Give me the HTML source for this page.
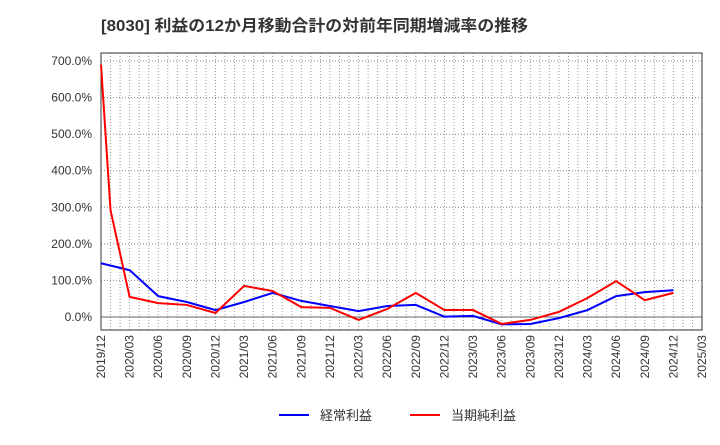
<!DOCTYPE html>
<html><head><meta charset="utf-8"><style>
body{margin:0;background:#fff;}
svg{font-family:"Liberation Sans","Noto Sans CJK JP",sans-serif;}
</style></head><body>
<svg id="c" width="720" height="440" xmlns="http://www.w3.org/2000/svg">
<text x="101" y="31" font-size="16" font-weight="bold" fill="#333" textLength="427" lengthAdjust="spacingAndGlyphs">[8030]  利益の12か月移動合計の対前年同期増減率の推移</text>
<g id="grid"></g><g id="axes"></g><g id="series"></g>
<g>
<line x1="279" y1="415" x2="309" y2="415" stroke="#0000ff" stroke-width="2"/>
<text x="320" y="420" font-size="13" fill="#333">経常利益</text>
<line x1="410" y1="415" x2="440" y2="415" stroke="#ff0000" stroke-width="2"/>
<text x="451" y="420" font-size="13" fill="#333">当期純利益</text>
</g>
</svg>
<script>
const xLabels=["2019/12","2020/03","2020/06","2020/09","2020/12","2021/03","2021/06","2021/09","2021/12","2022/03","2022/06","2022/09","2022/12","2023/03","2023/06","2023/09","2023/12","2024/03","2024/06","2024/09","2024/12","2025/03"];
const yTicks=[0,100,200,300,400,500,600,700];
const blueMonths=[0,3,6,9,12,15,18,21,24,27,30,33,36,39,42,45,48,51,54,57,60];
const blueValues=[147,128,57,41,19,41,66,44,30,16,30,33,1,3,-20,-19,-3,19,57,68,73];
const redMonths=[0,1,3,6,9,12,15,18,21,24,27,30,33,36,39,42,45,48,51,54,57,60];
const redValues=[690,292,55,38,33,11,85,71,27,25,-8,22,66,19,19,-19,-8,14,52,98,46,66];
const L=101,R=702,T=53,B=330;
const xs=m=>L+(R-L)*m/63;
const ys=v=>317+(61-317)*v/700;
const NS="http://www.w3.org/2000/svg";
function mk(p,t,a){const e=document.createElementNS(NS,t);for(const k in a)e.setAttribute(k,a[k]);p.appendChild(e);return e;}
const g=document.getElementById('grid'),ax=document.getElementById('axes'),sr=document.getElementById('series');
for(let m=1;m<63;m++){const l=mk(g,'line',{x1:xs(m),x2:xs(m),y1:T,y2:B,stroke:'#999','stroke-dasharray':'1,2','stroke-width':1});

}
yTicks.forEach(v=>{const y=ys(v);
const l=mk(g,'line',{x1:L,x2:R,y1:y,y2:y,stroke:v===0?'#666':'#888','stroke-dasharray':v===0?'none':'1,2','stroke-width':1});


const t=mk(ax,'text',{x:92,y:y+4,'text-anchor':'end','font-size':12,fill:'#333'});t.textContent=v.toFixed(1)+'%';

});
const fr=mk(ax,'rect',{x:L,y:T,width:R-L,height:B-T,fill:'none',stroke:'#333','stroke-width':1});


xLabels.forEach((s,i)=>{const x=xs(i*3);const t=mk(ax,'text',{x:0,y:0,'text-anchor':'end','font-size':12,fill:'#333',transform:`translate(${x+4},${B+5}) rotate(-90)`});t.textContent=s;

});
function line(ms,vs,c,n){const p=mk(sr,'polyline',{points:ms.map((m,i)=>xs(m)+','+ys(vs[i])).join(' '),fill:'none',stroke:c,'stroke-width':2});

}
line(blueMonths,blueValues,'#0000ff','keijo-line');
line(redMonths,redValues,'#ff0000','junri-line');
</script>
</body></html>
